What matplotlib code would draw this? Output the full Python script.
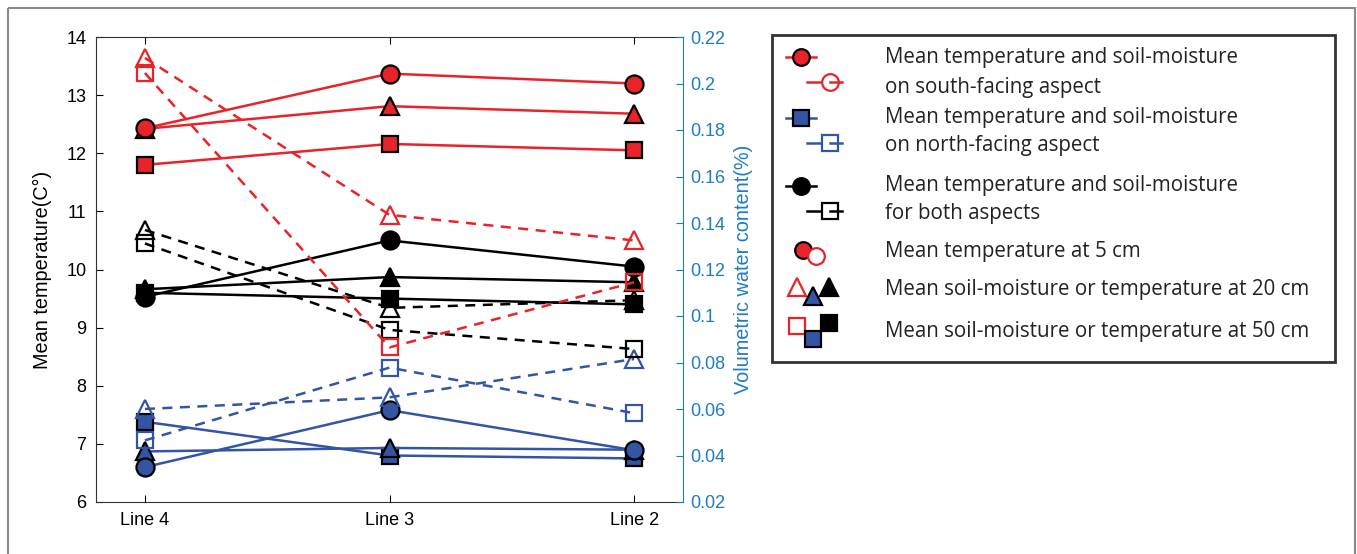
import numpy as np
import matplotlib.pyplot as plt
from matplotlib.patches import Rectangle

# Data
sites = ['Line 4', 'Line 3', 'Line 2']

# mean temperature (C), filled markers, solid lines
t_south = {'5cm': [12.43, 13.37, 13.20], '20cm': [12.42, 12.81, 12.68], '50cm': [11.80, 12.16, 12.05]}
t_both = {'5cm': [9.53, 10.50, 10.05], '20cm': [9.66, 9.87, 9.78], '50cm': [9.60, 9.50, 9.40]}
t_north = {'5cm': [6.60, 7.58, 6.89], '20cm': [6.87, 6.93, 6.90], '50cm': [7.38, 6.80, 6.75]}

# volumetric water content, open markers, dashed lines
m_south = {'20cm': [0.211, 0.1435, 0.1325], '50cm': [0.2045, 0.0865, 0.1145]}
m_both = {'20cm': [0.137, 0.1035, 0.1068], '50cm': [0.1312, 0.0940, 0.0858]}
m_north = {'20cm': [0.0600, 0.0650, 0.0815], '50cm': [0.0465, 0.0778, 0.0582]}

legend_texts = [
    ('Mean temperature and soil-moisture', 'on south-facing aspect'),
    ('Mean temperature and soil-moisture', 'on north-facing aspect'),
    ('Mean temperature and soil-moisture', 'for both aspects'),
    ('Mean temperature at 5 cm',),
    ('Mean soil-moisture or temperature at 20 cm',),
    ('Mean soil-moisture or temperature at 50 cm',),
]

RED = '#e8232a'
BLUE = '#3455a4'
BLACK = '#000000'
AXBLUE = '#1f7bc4'
mk = {'5cm': 'o', '20cm': '^', '50cm': 's'}
ms = {'o': 13, '^': 13, 's': 11}

plt.rcParams['font.family'] = ['Liberation Sans', 'DejaVu Sans']

W, H = 1357, 554
fig = plt.figure(figsize=(W / 100, H / 100), dpi=100)

# outer frame + legend drawn in pixel coordinates
bg = fig.add_axes([0, 0, 1, 1])
bg.set_xlim(0, W)
bg.set_ylim(H, 0)
bg.axis('off')
bg.add_patch(Rectangle((8, 8), W - 10, H + 10, fill=False, ec='#8a8a8a', lw=1.5))

ax = fig.add_axes([96 / W, 1 - 502 / H, (683 - 96) / W, (502 - 37) / H])
ax2 = ax.twinx()
x = np.arange(1, 4)

for d, col in [(t_north, BLUE), (t_both, BLACK), (t_south, RED)]:
    for key in ['50cm', '20cm', '5cm']:
        m = mk[key]
        ax.plot(x, d[key], color=col, lw=1.8, marker=m, ms=ms[m],
                mfc=col, mec='black', mew=1.6, zorder=3)

for d, col in [(m_north, BLUE), (m_both, BLACK), (m_south, RED)]:
    for key in ['50cm', '20cm']:
        m = mk[key]
        ax2.plot(x, d[key], color=col, lw=1.8, ls=(0, (4, 3)), marker=m,
                 ms=ms[m], mfc='none', mec=col, mew=1.6)

ax.set_xlim(0.8, 3.2)
ax.set_ylim(6, 14)
ax.set_xticks(x)
ax.set_xticklabels(sites)
ax.set_yticks(range(6, 15))
ax.tick_params(direction='in', labelsize=13, top=True, length=5, pad=7)
ax.set_ylabel('Mean temperature(C°)', fontsize=14.3, labelpad=10)
for s in ['left', 'bottom', 'top']:
    ax.spines[s].set_color('#333333')
ax.spines['right'].set_visible(False)

ax2.set_ylim(0.02, 0.22)
ax2.set_yticks(np.arange(0.02, 0.2201, 0.02))
ax2.set_yticklabels(['0.02', '0.04', '0.06', '0.08', '0.1', '0.12', '0.14',
                     '0.16', '0.18', '0.2', '0.22'])
ax2.tick_params(axis='y', direction='in', colors=AXBLUE, labelsize=13, length=5, pad=5)
ax2.set_ylabel('Volumetric water content(%)', color=AXBLUE, fontsize=14.3, labelpad=6)
ax2.spines['right'].set_color(AXBLUE)
for s in ['left', 'bottom', 'top']:
    ax2.spines[s].set_visible(False)

# legend box
bg.add_patch(Rectangle((772, 35), 563, 327, fill=False, ec='#333333', lw=2))


def sym(xx, yy, m, face, edge, size):
    bg.plot([xx], [yy], marker=m, ms=size, mfc=face, mec=edge, mew=1.6)


# entries 1-3: solid filled + dashed open
for (yy, col, m1, m2) in [(57, RED, 'o', 'o'), (118, BLUE, 's', 's'), (186, BLACK, 'o', 's')]:
    bg.plot([786, 816], [yy, yy], color=col, lw=1.8)
    sym(801, yy, m1, col, 'black', 12 if m1 == 'o' else 11)
    bg.plot([807, 820], [yy + 25, yy + 25], color=col, lw=1.8)
    bg.plot([830, 842], [yy + 25, yy + 25], color=col, lw=1.8)
    sym(830, yy + 25, m2, 'none', col, 12 if m2 == 'o' else 11)

# entry 4
sym(803, 250, 'o', RED, 'black', 12)
sym(816, 256, 'o', 'white', RED, 12)
# entry 5
sym(797, 287, '^', 'none', RED, 13)
sym(813, 296, '^', BLUE, 'black', 13)
sym(829, 287, '^', BLACK, 'black', 13)
# entry 6
sym(797, 326, 's', 'none', RED, 11)
sym(813, 339, 's', BLUE, 'black', 11)
sym(829, 323, 's', BLACK, 'black', 11)

ys = [(57, 87), (118, 146), (186, 213), (252,), (290,), (331,)]
for lines, yl in zip(legend_texts, ys):
    for txt, yy in zip(lines, yl):
        bg.text(885, yy, txt, fontsize=14.8, va='center', ha='left',
                family=['Open Sans', 'DejaVu Sans'], color='#222222')

fig.savefig('out.png', dpi=100)
